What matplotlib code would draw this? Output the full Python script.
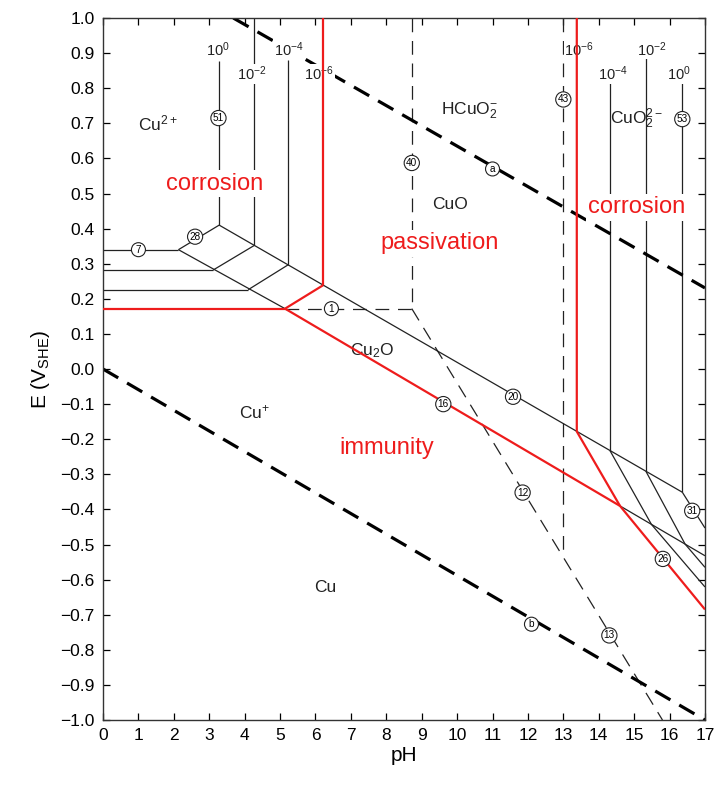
import matplotlib
matplotlib.use('Agg')
import matplotlib.pyplot as plt
from matplotlib.ticker import FixedLocator, FuncFormatter

plt.rcParams['font.family'] = ['Liberation Sans', 'DejaVu Sans']
plt.rcParams['mathtext.fontset'] = 'custom'
plt.rcParams['mathtext.rm'] = 'Liberation Sans'
plt.rcParams['mathtext.it'] = 'Liberation Sans:italic'
plt.rcParams['mathtext.bf'] = 'Liberation Sans:bold'
plt.rcParams['mathtext.default'] = 'regular'

# ---------------- data (pH, E) ----------------
water_a = [(3.68, 1.0), (17.0, 0.231)]
water_b = [(0.0, 0.0), (17.0, -1.0)]

# Cu2+/Cu horizontals (10^0, 10^-2, 10^-4)
cu2_cu = [[(0, 0.340), (2.13, 0.340)],
          [(0, 0.282), (3.11, 0.282)],
          [(0, 0.226), (4.10, 0.226)]]
# Cu2+/Cu2O rising segments
cu2_cu2o = [[(2.13, 0.340), (3.28, 0.410)],
            [(3.11, 0.282), (4.27, 0.352)],
            [(4.10, 0.226), (5.23, 0.297)]]
# Cu2O/Cu (black parts)
cu2o_cu_black = [[(2.13, 0.340), (5.14, 0.172)],
                 [(14.6, -0.390), (17.0, -0.532)]]
# CuO/Cu2O line (20)
cuo_cu2o = [(3.28, 0.410), (16.36, -0.351)]
# Cu2+/CuO verticals (left) and CuO/CuO2^2- verticals (right)
left_verticals = [[(3.28, 0.878), (3.28, 0.410)],
                  [(4.27, 1.0), (4.27, 0.352)],
                  [(5.23, 0.880), (5.23, 0.297)]]
right_verticals = [[(14.32, 0.822), (14.32, -0.233)],
                   [(15.33, 0.890), (15.33, -0.291)],
                   [(16.36, 0.822), (16.36, -0.351)]]
# Cu2O/CuO2^2- (31) and Cu/CuO2^2- (26) families
cuo2_lines = [[(16.36, -0.351), (17.0, -0.453)],
              [(14.32, -0.233), (15.49, -0.443), (17.0, -0.621)],
              [(15.33, -0.291), (16.44, -0.499), (17.0, -0.565)]]
# red 10^-6 boundaries
red_lines = [[(0, 0.172), (5.14, 0.172)],
             [(5.14, 0.172), (6.22, 0.239)],
             [(6.22, 1.0), (6.22, 0.239)],
             [(5.14, 0.172), (14.6, -0.390), (17.0, -0.685)],
             [(13.38, 1.0), (13.38, -0.178), (14.6, -0.390)]]
# thin dashed lines
dashed_lines = [[(5.14, 0.172), (8.72, 0.172)],
                [(8.72, 1.0), (8.72, 0.172)],
                [(8.72, 0.172), (15.8, -1.0)],
                [(13.0, 1.0), (13.0, -0.537)]]

circle_ids = ['51', '53', '43', '40', 'a', '7', '28', '1', '16', '20', '12', '13', 'b', '31', '26']
circle_ph = [3.26, 16.36, 13.0, 8.72, 11.0, 1.0, 2.6, 6.45, 9.61, 11.58, 11.85, 14.3, 12.1, 16.64, 15.81]
circle_E = [0.715, 0.712, 0.768, 0.587, 0.570, 0.340, 0.377, 0.172, -0.100, -0.079, -0.352, -0.759, -0.727, -0.404, -0.541]

conc_labels = ['$10^{0}$', '$10^{-4}$', '$10^{-2}$', '$10^{-6}$', '$10^{-6}$', '$10^{-2}$', '$10^{-4}$', '$10^{0}$']
conc_ph = [3.25, 5.25, 4.2, 6.1, 13.45, 15.5, 14.4, 16.25]
conc_E = [0.911, 0.911, 0.841, 0.841, 0.911, 0.911, 0.841, 0.841]

species = ['Cu$^{2+}$', 'HCuO$_2^{-}$', 'CuO$_2^{2-}$', 'CuO', 'Cu$_2$O', 'Cu$^{+}$', 'Cu']
species_ph = [1.55, 10.36, 15.08, 9.8, 7.6, 4.29, 6.27]
species_E = [0.701, 0.737, 0.712, 0.469, 0.053, -0.122, -0.622]

zones = ['corrosion', 'passivation', 'corrosion', 'immunity']
zones_ph = [3.16, 9.52, 15.08, 8.02]
zones_E = [0.528, 0.358, 0.461, -0.225]

x_ticks = list(range(0, 18))
y_ticks = [round(-1.0 + 0.1 * i, 1) for i in range(21)]

# ---------------- drawing ----------------
fig = plt.figure(figsize=(7.16, 7.87), dpi=100)
ax = fig.add_axes([0.1439, 0.0851, 0.9846 - 0.1439, 0.9771 - 0.0851])
ax.set_xlim(0, 17)
ax.set_ylim(-1.0, 1.0)


def plot_poly(pts, **kw):
    xs = [p[0] for p in pts]
    ys = [p[1] for p in pts]
    ax.plot(xs, ys, **kw)


blk = dict(color='#222222', lw=0.9, zorder=2, solid_capstyle='butt')
for group in (cu2_cu, cu2_cu2o, cu2o_cu_black, [cuo_cu2o], left_verticals,
              right_verticals, cuo2_lines):
    for seg in group:
        plot_poly(seg, **blk)

for seg in dashed_lines:
    plot_poly(seg, color='#222222', lw=0.9, dashes=(11, 7), zorder=2)

for seg in (water_a, water_b):
    plot_poly(seg, color='black', lw=2.3, dashes=(5.5, 3.2), zorder=2)

for seg in red_lines:
    plot_poly(seg, color='#ee1c1c', lw=1.6, zorder=5, solid_capstyle='butt')

for lab, x, y in zip(circle_ids, circle_ph, circle_E):
    ax.text(x, y, lab, fontsize=7.2, ha='center', va='center', zorder=6,
            bbox=dict(boxstyle='circle,pad=0.2', fc='white', ec='#222222', lw=0.8))

for lab, x, y in zip(conc_labels, conc_ph, conc_E):
    ax.text(x, y, lab, fontsize=10.5, ha='center', va='center', zorder=4, color='#222222',
            bbox=dict(boxstyle='square,pad=0.05', fc='white', ec='none'))

for lab, x, y in zip(species, species_ph, species_E):
    ax.text(x, y, lab, fontsize=12.5, ha='center', va='center', zorder=4, color='#222222')

for i, (lab, x, y) in enumerate(zip(zones, zones_ph, zones_E)):
    bb = dict(boxstyle='square,pad=0.1', fc='white', ec='none') if i < 3 else None
    ax.text(x, y, lab, fontsize=17, ha='center', va='center', zorder=4,
            color='#ee1c1c', bbox=bb)

ax.xaxis.set_major_locator(FixedLocator(x_ticks))
ax.yaxis.set_major_locator(FixedLocator(y_ticks))
ax.yaxis.set_major_formatter(FuncFormatter(lambda v, p: f'{v:.1f}'.replace('-', '\u2212')))
ax.tick_params(direction='in', length=5, width=0.9, top=True, right=True,
               labelsize=12.5, pad=6)
for s in ax.spines.values():
    s.set_linewidth(1.0)
    s.set_color('#333333')

ax.set_xlabel('pH', fontsize=15, labelpad=2)
ax.set_ylabel('E (V$_{SHE}$)', fontsize=15, labelpad=6)

fig.savefig('out.png', dpi=100)
